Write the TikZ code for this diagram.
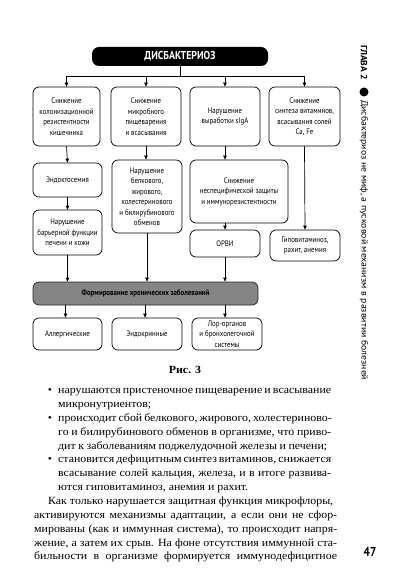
\documentclass[tikz,border=0pt]{standalone}
\usepackage{fontspec}
\usepackage{graphicx}
\setmainfont{Liberation Serif}[FakeStretch=1.08]
\newfontfamily\diag{PT Sans}[FakeStretch=0.86]
\usetikzlibrary{arrows.meta}
\tikzset{
  bx/.style={draw, line width=0.7pt, rounded corners=6pt, align=center, inner sep=1pt,
    font=\diag\fontsize{8}{10.5}\selectfont, minimum width=69pt},
  ar/.style={line width=0.7pt, -{Triangle[length=4pt,width=3.4pt]}},
  ln/.style={anchor=base west, inner sep=0pt, font=\fontsize{11}{13}\selectfont},
  bul/.style={anchor=base, inner sep=0pt, font=\fontsize{11}{13}\selectfont},
}
\begin{document}
\begin{tikzpicture}[x=1pt, y=-1pt]
\fill[white] (0,0) rectangle (416,585);
\useasboundingbox (0,0) rectangle (416,585);

% top
\node[fill=black, rounded corners=7pt, minimum width=176pt, minimum height=19pt, inner sep=0pt,
  text=white, font=\diag\bfseries\fontsize{11.5}{12}\selectfont] (top) at (180,56.5) {ДИСБАКТЕРИОЗ};
\coordinate (hl) at (180,76);

% row 1
\node[bx, minimum width=67pt, minimum height=59pt] (b1) at (66.5,116.5) {Снижение\\колонизационной\\резистентности\\кишечника};
\node[bx, minimum width=70pt, minimum height=59pt] (b2) at (146,116.5) {Снижение\\микробного\\пищеварения\\и всасывания};
\node[bx, minimum width=70pt, minimum height=59pt] (b3) at (225,116.5) {Нарушение\\выработки sIgA};
\node[bx, minimum width=71pt, minimum height=59pt] (b4) at (304.5,116.5) {Снижение\\синтеза витаминов,\\всасывания солей\\Ca, Fe};

% row 2
\node[bx, minimum height=34pt] (c1) at (67.5,180) {Эндоктосемия};
\node[bx, minimum height=45pt] (d1) at (67.5,232.5) {Нарушение\\барьерной функции\\печени и кожи};
\node[bx, minimum width=70pt, minimum height=73pt] (c2) at (147,196.5) {Нарушение\\белкового,\\жирового,\\холестеринового\\и билирубинового\\обменов};
\node[bx, minimum width=98pt, minimum height=63pt] (c3) at (239,191.5) {Снижение\\неспецифической защиты\\и иммунорезистентности};
\node[bx, minimum width=70pt, minimum height=27pt] (d3) at (225,243.5) {ОРВИ};
\node[bx, minimum width=70pt, minimum height=31pt] (d4) at (305,245.5) {Гиповитаминоз,\\рахит, анемия};

% bar
\node[draw=black!85, fill=black!48, line width=0.7pt, rounded corners=6pt, minimum width=225pt,
  minimum height=23pt, inner sep=0pt, font=\diag\bfseries\fontsize{8}{10}\selectfont] (bar) at (145.5,293.5)
  {Формирование хронических заболеваний};

% bottom row
\node[bx, minimum height=32pt] (e1) at (67.5,334) {Аллергические};
\node[bx, minimum width=70pt, minimum height=32pt] (e2) at (147,334) {Эндокринные};
\node[bx, minimum width=70pt, minimum height=32pt] (e3) at (227,334) {Лор-органов\\и бронхолегочной\\системы};

% connectors
\draw[line width=0.7pt] (top) -- (hl);
\draw[line width=0.7pt] (b1.north |- hl) -- (b4.north |- hl);
\foreach \n in {b1,b2,b3,b4} \draw[ar] (\n.north |- hl) -- (\n.north);
\draw[ar] (b1.south) -- (c1.north);
\draw[ar] (c1.south) -- (d1.north);
\draw[ar] (b2.south) -- (b2.south |- c2.north);
\draw[ar] (b3.south) -- (b3.south |- c3.north);
\draw[ar] (d3.north |- c3.south) -- (d3.north);
\draw[ar] (b4.south) -- (d4.north);
\draw[ar] (d1.south) -- (d1.south |- bar.north);
\draw[ar] (c2.south) -- (c2.south |- bar.north);
\draw[ar] (d3.south) -- (d3.south |- bar.north);
\foreach \n in {e1,e2,e3} \draw[ar] ([xshift=-2pt]\n.north |- bar.south) -- ([xshift=-2pt]\n.north);

% caption
\node[font=\bfseries\fontsize{11}{13}\selectfont, inner sep=0pt] (cap) at (185,370) {Рис. 3};

% body text
\node[bul] (u1) at (50,393.6) {•};
\node[ln] (l1) at (58,393.6) {\makebox[273pt][s]{нарушаются пристеночное пищеварение и всасывание}};
\node[ln] (l2) at (58,407.5) {микронутриентов;};
\node[bul] (u2) at (50,421.3) {•};
\node[ln] (l3) at (58,421.3) {\makebox[273pt][s]{происходит сбой белкового, жирового, холестериново-}};
\node[ln] (l4) at (58,435.2) {\makebox[273pt][s]{го и билирубинового обменов в организме, что приво-}};
\node[ln] (l5) at (58,449.0) {\makebox[269pt][s]{дит к заболеваниям поджелудочной железы и печени;}};
\node[bul] (u3) at (50,462.9) {•};
\node[ln] (l6) at (58,462.9) {\makebox[273pt][s]{становится дефицитным синтез витаминов, снижается}};
\node[ln] (l7) at (58,476.7) {\makebox[273pt][s]{всасывание солей кальция, железа, и в итоге развива-}};
\node[ln] (l8) at (58,490.6) {ются гиповитаминоз, анемия и рахит.};
\node[ln] (l9) at (48,504.4) {\makebox[285pt][s]{Как только нарушается защитная функция микрофлоры,}};
\node[ln] (l10) at (34,518.3) {\makebox[303pt][s]{активируются механизмы адаптации, а если они не сфор-}};
\node[ln] (l11) at (34,532.1) {\makebox[303pt][s]{мированы (как и иммунная система), то происходит напря-}};
\node[ln] (l12) at (34,546.0) {\makebox[303pt][s]{жение, а затем их срыв. На фоне отсутствия иммунной ста-}};
\node[ln] (l13) at (34,559.8) {\makebox[303pt][s]{бильности в организме формируется иммунодефицитное}};

% sidebar
\node[rotate=-90, anchor=west, inner sep=0pt, font=\diag\bfseries\fontsize{9}{10}\selectfont] (gl) at (364,45)
  {\resizebox{35pt}{\height}{ГЛАВА 2}};
\node[circle, fill=black, minimum size=9pt, inner sep=0pt] (dot) at (364,92) {};
\node[rotate=-90, anchor=west, inner sep=0pt, font=\diag\fontsize{9}{10}\selectfont] (st) at (364,100)
  {\resizebox{280pt}{\height}{Дисбактериоз не миф, а пусковой механизм в развитии болезней}};

% page number
\node[font=\diag\bfseries\fontsize{13}{14}\selectfont, inner sep=0pt] (pg) at (370,552) {47};
\end{tikzpicture}
\end{document}
